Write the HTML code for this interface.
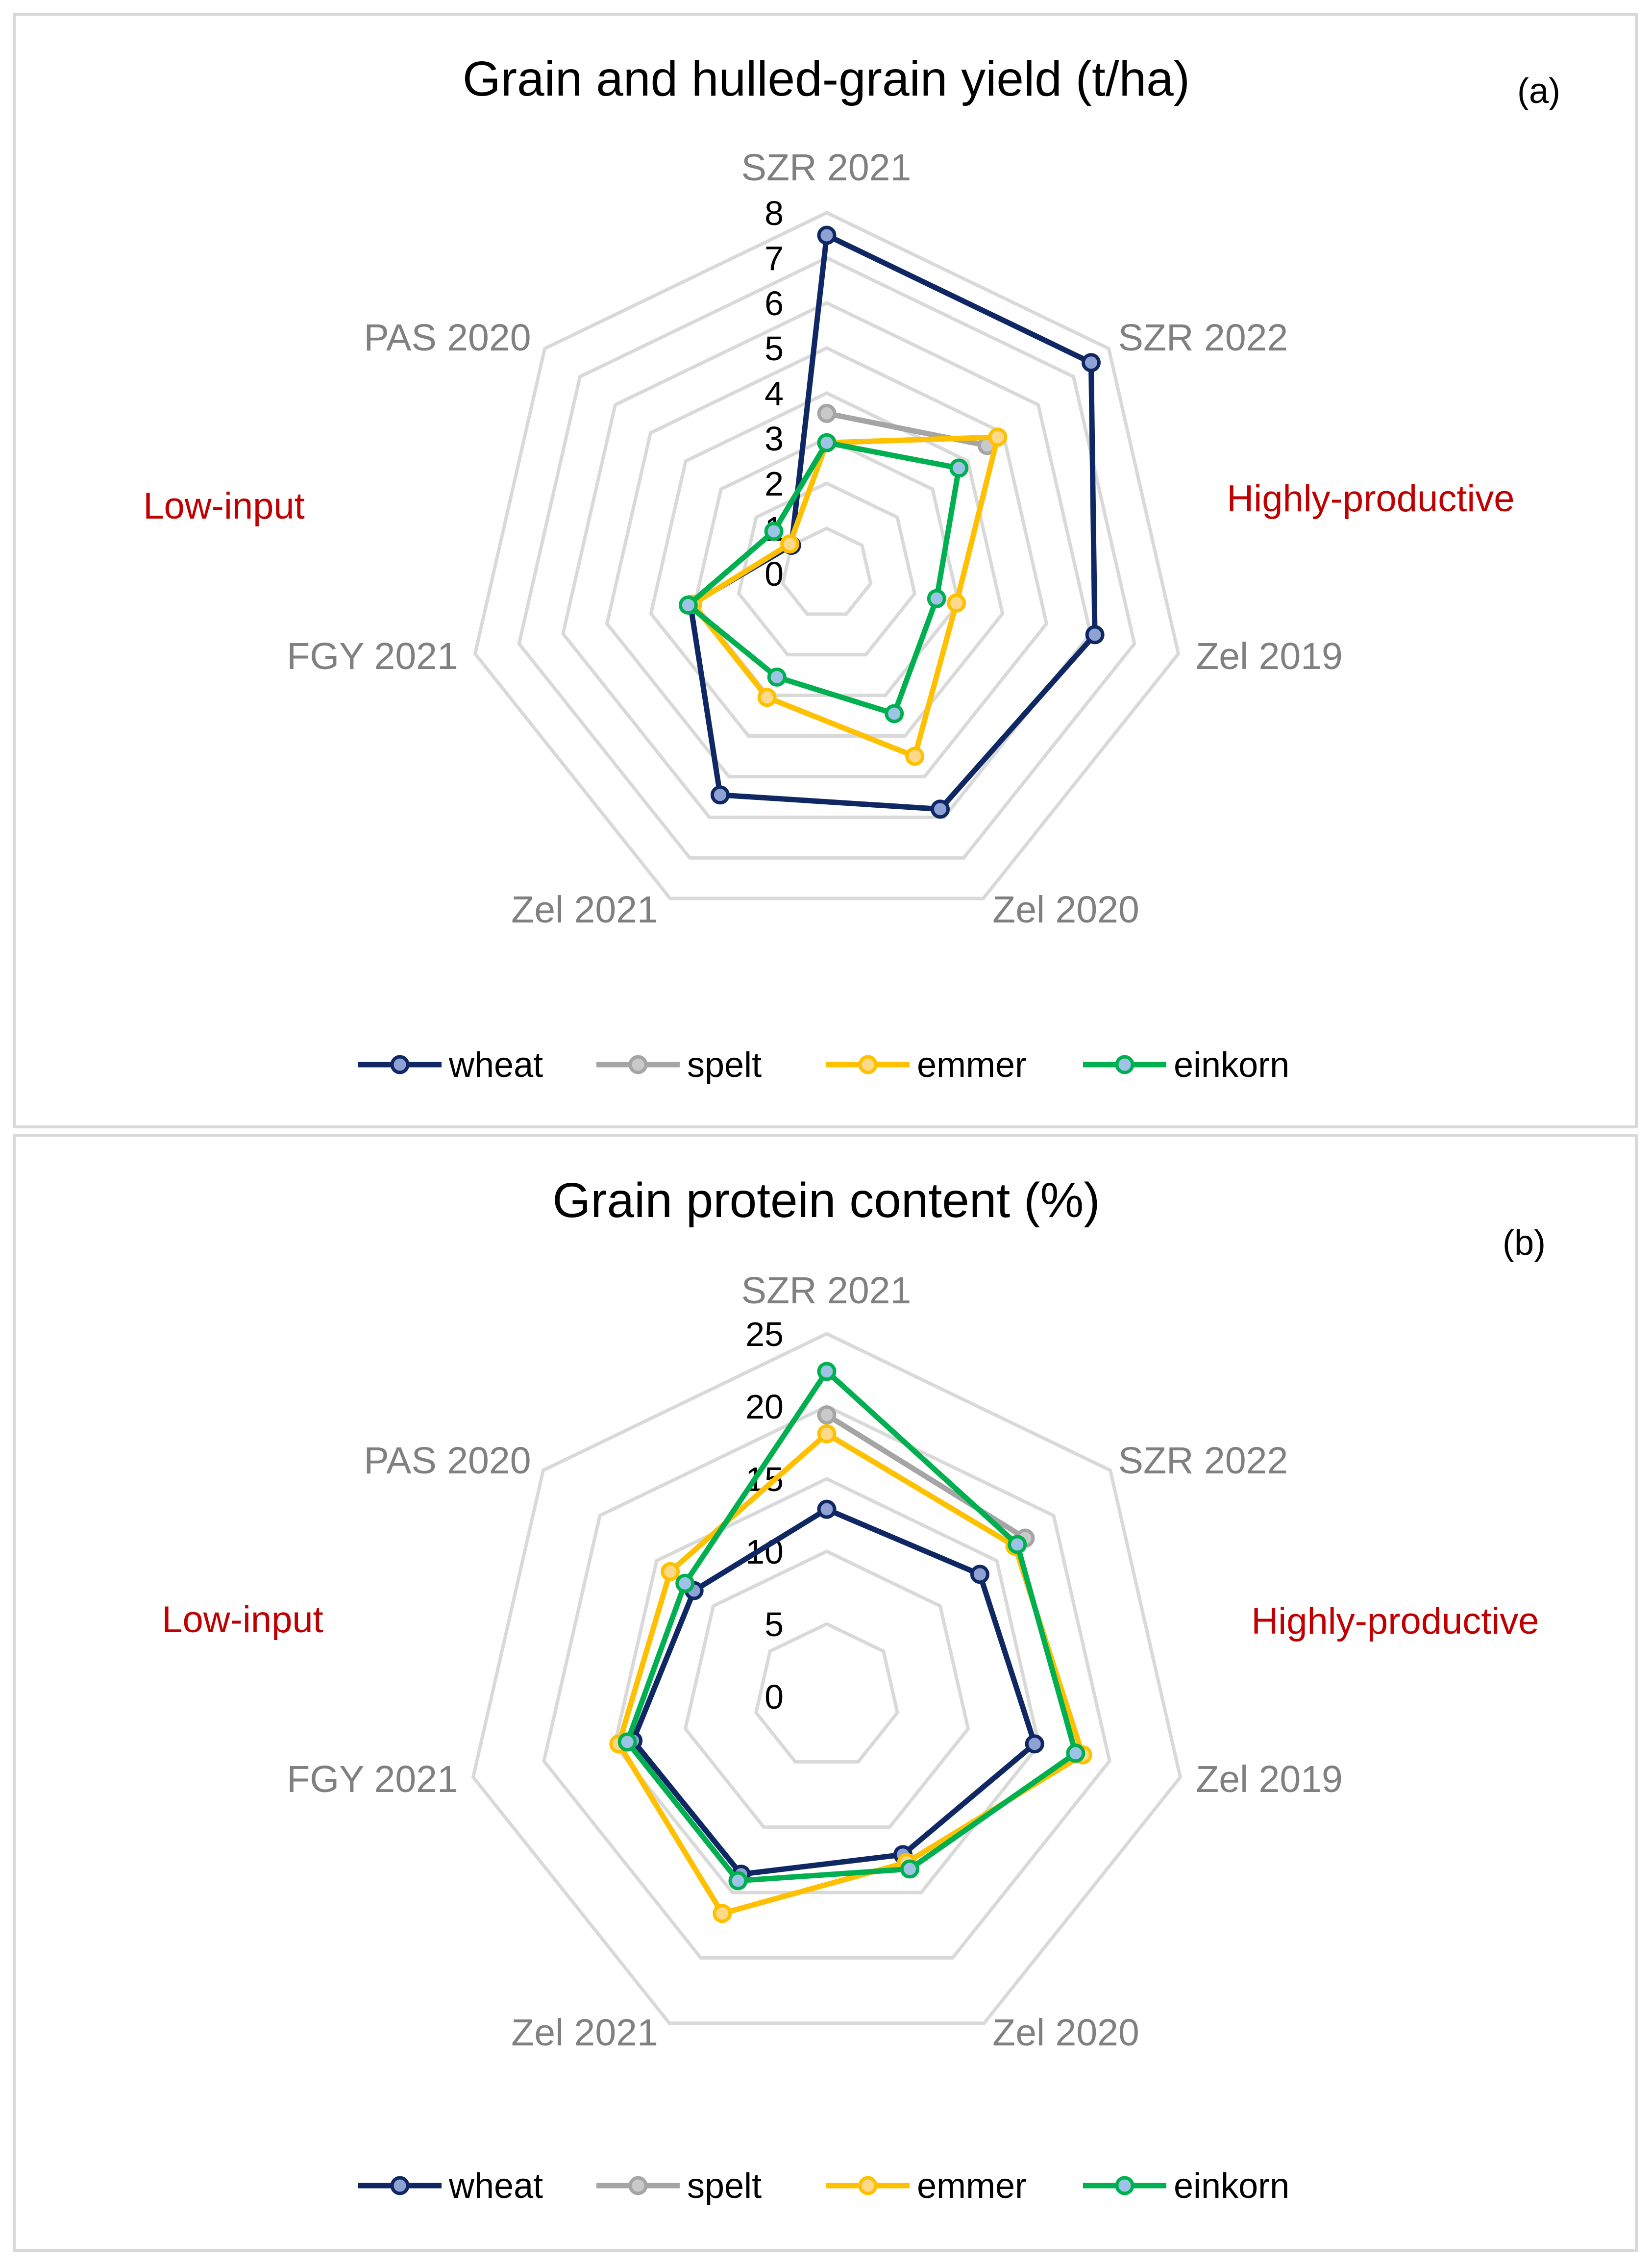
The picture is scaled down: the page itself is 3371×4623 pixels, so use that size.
<!DOCTYPE html>
<html><head><meta charset="utf-8">
<style>
html,body{margin:0;padding:0;background:#fff;}
svg{display:block;font-family:"Liberation Sans",sans-serif;}
</style></head>
<body>
<svg id="fig" width="3371" height="4623" viewBox="0 0 3371 4623" xmlns="http://www.w3.org/2000/svg">
<rect x="29" y="29" width="3310" height="2270" fill="#fff" stroke="#d9d9d9" stroke-width="6"/>
<rect x="29" y="2316" width="3310" height="2275" fill="#fff" stroke="#d9d9d9" stroke-width="6"/>
<text x="1686" y="195" font-size="100" text-anchor="middle" fill="#000">Grain and hulled-grain yield (t/ha)</text>
<text x="3140" y="210" font-size="72" text-anchor="middle" fill="#000">(a)</text>
<text x="1686" y="2483" font-size="100" text-anchor="middle" fill="#000">Grain protein content (%)</text>
<text x="3110" y="2560" font-size="72" text-anchor="middle" fill="#000">(b)</text>
<text x="457" y="1058" font-size="76" text-anchor="middle" fill="#c00000">Low-input</text>
<text x="2797" y="1043" font-size="76" text-anchor="middle" fill="#c00000">Highly-productive</text>
<text x="495" y="3330" font-size="76" text-anchor="middle" fill="#c00000">Low-input</text>
<text x="2847" y="3333" font-size="76" text-anchor="middle" fill="#c00000">Highly-productive</text>
<g id="chartA"></g>
<g id="chartB"></g>
<g id="legendA"></g>
<g id="legendB"></g>
</svg>
<script>
const categories = ["SZR 2021","SZR 2022","Zel 2019","Zel 2020","Zel 2021","FGY 2021","PAS 2020"];
const seriesNames = ["wheat","spelt","emmer","einkorn"];
// Chart (a) yield t/ha
const yieldWheat   = [7.5, 7.5, 6.1, 5.8, 5.45, 3.1, 1.0];
const yieldSpelt   = [3.55, 4.55, null, null, null, null, null];
const yieldEmmer   = [2.9, 4.85, 2.95, 4.5, 3.05, 3.05, 1.05];
const yieldEinkorn = [2.9, 3.75, 2.5, 3.45, 2.55, 3.15, 1.5];
const yieldTicks = ["0","1","2","3","4","5","6","7","8"];
const yieldTickValues = [0,1,2,3,4,5,6,7,8];
// Chart (b) protein %
const protWheat   = [12.9, 13.5, 14.7, 12.1, 13.6, 13.7, 11.7];
const protSpelt   = [19.4, 17.5, null, null, null, null, null];
const protEmmer   = [18.1, 16.6, 18.1, 12.7, 16.6, 14.7, 13.8];
const protEinkorn = [22.4, 16.8, 17.6, 13.2, 14.1, 14.1, 12.5];
const protTicks = ["0","5","10","15","20","25"];
const protTickValues = [0,5,10,15,20,25];

const NS = "http://www.w3.org/2000/svg";
const lineColors = ["#0f2763","#a5a5a5","#ffc000","#00b050"];
const fillColors = ["#8fa2d4","#c9c9c9","#ffd98a","#9dc3e6"];
const N = categories.length;

function mk(tag, attrs, parent){
  const e = document.createElementNS(NS, tag);
  for (const k in attrs) e.setAttribute(k, attrs[k]);
  parent.appendChild(e);
  return e;
}
function ang(i){ return i * 2 * Math.PI / N; }

function drawRadar(g, cx, cy, R, maxV, tickVals, tickLabels, series, tag, labelOffsets){
  const scale = v => v / maxV * R;
  const pt = (i, v) => [cx + Math.sin(ang(i)) * scale(v), cy - Math.cos(ang(i)) * scale(v)];
  // grid rings
  tickVals.forEach((tv) => {
    if (tv === 0) return;
    const pts = [];
    for (let i = 0; i < N; i++) pts.push(pt(i, tv).join(","));
    const ring = mk("polygon", {points: pts.join(" "), fill: "none", stroke: "#d9d9d9", "stroke-width": 7}, g);
    
    
  });
  // tick labels
  tickVals.forEach((tv, k) => {
    const t = mk("text", {x: cx - 88, y: cy - scale(tv) + 25, "font-size": 70, "text-anchor": "end", fill: "#000"}, g);
    t.textContent = tickLabels[k];
    
    
  });
  // category labels
  categories.forEach((c, i) => {
    const off = labelOffsets[i];
    const t = mk("text", {x: off[0], y: off[1], "font-size": 77, "text-anchor": "middle", fill: "#808080"}, g);
    t.textContent = c;
    
    
  });
  // series
  series.forEach((vals, s) => {
    const pts = [];
    vals.forEach((v, i) => { if (v !== null) pts.push(pt(i, v)); });
    const full = vals.every(v => v !== null);
    const el = mk(full ? "polygon" : "polyline", {points: pts.map(p => p.join(",")).join(" "), fill: "none", stroke: lineColors[s], "stroke-width": 11, "stroke-linejoin": "round"}, g);
    
    
    pts.forEach(p => {
      const m = mk("circle", {cx: p[0], cy: p[1], r: 16, fill: fillColors[s], stroke: lineColors[s], "stroke-width": 7}, g);
      
      
    });
  });
}

function drawLegend(g, y){
  const xs = [731, 1217, 1686, 2210];
  seriesNames.forEach((n, s) => {
    const x = xs[s];
    const l = mk("line", {x1: x, y1: y, x2: x + 170, y2: y, stroke: lineColors[s], "stroke-width": 11}, g);
    
    
    const c = mk("circle", {cx: x + 85, cy: y, r: 16, fill: fillColors[s], stroke: lineColors[s], "stroke-width": 7}, g);
    
    
    const t = mk("text", {x: x + 185, y: y + 25, "font-size": 72, fill: "#000"}, g);
    t.textContent = n;
    
    
  });
}

const labelsA = [[1686,368],[2455,715],[2590,1365],[2175,1882],[1193,1882],[760,1365],[913,715]];
const labelsB = labelsA.map(p => [p[0], p[1] + 2291]);
drawRadar(document.getElementById("chartA"), 1687, 1170, 736, 8, yieldTickValues, yieldTicks,
  [yieldWheat, yieldSpelt, yieldEmmer, yieldEinkorn], "yield", labelsA);
drawRadar(document.getElementById("chartB"), 1687, 3461, 740, 25, protTickValues, protTicks,
  [protWheat, protSpelt, protEmmer, protEinkorn], "protein", labelsB);
drawLegend(document.getElementById("legendA"), 2172);
drawLegend(document.getElementById("legendB"), 4459);
</script>
</body></html>
